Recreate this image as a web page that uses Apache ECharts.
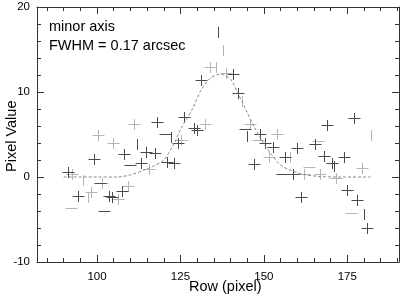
<!DOCTYPE html>
<html>
<head>
<meta charset="utf-8">
<script src="https://cdn.jsdelivr.net/npm/echarts@6/dist/echarts.min.js"></script>
<style>html,body{margin:0;padding:0;background:#fff}#c{width:407px;height:297px}</style>
</head>
<body>
<div id="c"></div>
<script>
// ---- data ----
const xMajorTicks = [100, 125, 150, 175];
const xMinorTicks = [85, 90, 95, 105, 110, 115, 120, 130, 135, 140, 145, 155, 160, 165, 170, 180, 185, 190];

// measurements drawn as full crosses (dark and light grey)
const darkCross = [
  [91.2, 0.6], [94.2, -2.2], [99.2, 2.1], [103.7, -2.2], [104.4, -2.3], [107.6, -1.7],
  [108.2, 2.7], [113.3, 1.6], [114.8, 2.9], [117.3, 2.8], [118.0, 6.5], [121.0, 1.8],
  [123.1, 1.6], [124.3, 4.0], [126.2, 7.1], [129.1, 5.8], [130.1, 5.5], [131.3, 11.4],
  [140.6, 12.1], [142.2, 9.9], [146.9, 1.5], [148.9, 5.1], [150.3, 4.0], [152.6, 3.5],
  [156.4, 2.4], [158.8, 0.3], [160.0, 3.4], [161.0, -2.3], [165.2, 3.9], [168.1, 2.5],
  [169.0, 6.1], [170.3, 1.7], [174.1, 2.3], [174.9, -1.5], [176.9, 7.0], [177.8, -2.7],
  [181.0, -6.0]
];
const lightCross = [
  [92.4, 0.35], [98.1, -1.8], [100.3, 5.0], [101.4, -0.7], [104.9, 4.0], [106.2, -2.6],
  [109.3, -1.0], [111.1, 6.2], [115.5, 1.0], [125.3, 4.4], [132.3, 6.2], [134.0, 12.9],
  [138.7, 12.2], [145.8, 6.2], [151.5, 2.3], [154.0, 5.1], [162.0, 0.3], [166.8, 0.3],
  [171.7, -0.15], [179.3, 1.1]
];
// measurements where only the horizontal bar is visible
const darkHBar = [[100.9, -0.75], [102.1, -4.0], [110.0, 1.4], [120.3, 5.1], [144.2, 5.7], [155.4, 0.3]];
const lightHBar = [[92.2, -3.6], [148.3, 4.4], [163.5, 1.2], [166.3, 4.2], [176.0, -4.2]];
// measurements where only the vertical bar is visible
const darkVBar = [[112.0, 3.9], [122.3, 4.7], [136.2, 17.1], [144.9, 4.8], [171.0, 1.3], [179.9, -4.3]];
const lightVBar = [[95.9, -0.35], [97.3, -2.3], [135.8, 13.0], [137.8, 14.9], [143.3, 9.0], [157.8, 2.3], [182.2, 5.0]];

// fitted profile
const fitX = [90, 100, 106, 110, 114, 117, 120, 123, 125.3, 128.6, 131, 134, 137, 140, 142.3, 145, 147, 150, 152.6, 155, 158, 162, 167, 172, 182];
const fitY = [0, 0, 0, 0.25, 0.8, 1.3, 2.0, 3.9, 5.8, 8.0, 10.1, 11.65, 12.1, 11.5, 9.8, 7.6, 6.0, 3.9, 2.5, 1.4, 0.8, 0.3, 0.05, 0, 0];

const annotation1 = 'minor axis';
const annotation2 = 'FWHM = 0.17 arcsec';
const xName = 'Row (pixel)';
const yName = 'Pixel Value';

// ---- chart ----
const FONT = 'Liberation Sans, Arial, Helvetica, sans-serif';
const DARK = '#4a4a4a', LIGHT = '#b5b5b5', AXIS = '#333';

function barSeries(data, color, showH, showV) {
  return {
    type: 'custom', xAxisIndex: 0, yAxisIndex: 0, data: data, silent: true,
    renderItem: function (params, api) {
      const p = api.coord([api.value(0), api.value(1)]);
      const cx = Math.round(p[0]) + 0.5, cy = Math.round(p[1]) + 0.5;
      const ch = [];
      if (showH) ch.push({type: 'line', shape: {x1: cx - 6, y1: cy, x2: cx + 6, y2: cy}, style: {stroke: color, lineWidth: 1}});
      if (showV) ch.push({type: 'line', shape: {x1: cx, y1: cy - 5.5, x2: cx, y2: cy + 5.5}, style: {stroke: color, lineWidth: 1}});
      return {type: 'group', children: ch};
    }
  };
}

function xAx(pos, ticks, len, showLine, showLabel) {
  return {
    type: 'value', min: 82, max: 190.5, position: pos,
    axisLine: {show: showLine, onZero: false, lineStyle: {color: AXIS, width: 1}},
    axisTick: {show: true, inside: true, length: len, customValues: ticks, lineStyle: {color: AXIS}},
    axisLabel: showLabel ? {show: true, customValues: ticks, fontSize: 11.5, color: '#000', fontFamily: FONT, margin: 9} : {show: false},
    splitLine: {show: false}
  };
}
function yAx(pos, showLabel) {
  return {
    type: 'value', min: -10, max: 20, interval: 10, position: pos,
    axisLine: {show: true, onZero: false, lineStyle: {color: AXIS, width: 1}},
    axisTick: {show: true, inside: true, length: 7, lineStyle: {color: AXIS}},
    minorTick: {show: true, splitNumber: 5, length: 4, lineStyle: {color: AXIS}},
    axisLabel: showLabel ? {show: true, fontSize: 11.5, color: '#000', fontFamily: FONT, margin: 7} : {show: false},
    splitLine: {show: false}, minorSplitLine: {show: false}
  };
}

const chart = echarts.init(document.getElementById('c'), null, {renderer: 'canvas'});
chart.setOption({
  animation: false,
  backgroundColor: '#fff',
  grid: {left: 37, right: 8, top: 7, bottom: 35},
  xAxis: [
    xAx('bottom', xMajorTicks, 7, true, true),
    xAx('bottom', xMinorTicks, 4, false, false),
    xAx('top', xMajorTicks, 7, true, false),
    xAx('top', xMinorTicks, 4, false, false)
  ],
  yAxis: [yAx('left', true), yAx('right', false)],
  graphic: [
    {type: 'text', left: 49, top: 19, style: {text: annotation1, font: '14.5px ' + FONT, fill: '#000'}},
    {type: 'text', left: 49, top: 38, style: {text: annotation2, font: '14.5px ' + FONT, fill: '#000'}},
    {type: 'text', left: 189, top: 279, style: {text: xName, font: '14.5px ' + FONT, fill: '#000'}},
    {type: 'text', x: 4, y: 172, rotation: Math.PI / 2, style: {text: yName, font: '14.5px ' + FONT, fill: '#000', textVerticalAlign: 'top'}}
  ],
  series: [
    {
      type: 'line', xAxisIndex: 0, yAxisIndex: 0, showSymbol: false, smooth: 0.3, silent: true,
      data: fitX.map((x, i) => [x, fitY[i]]),
      lineStyle: {color: '#8a8a8a', width: 1, type: [3, 2]}
    },
    barSeries(lightCross, LIGHT, true, true),
    barSeries(lightHBar, LIGHT, true, false),
    barSeries(lightVBar, LIGHT, false, true),
    barSeries(darkCross, DARK, true, true),
    barSeries(darkHBar, DARK, true, false),
    barSeries(darkVBar, DARK, false, true)
  ]
});
</script>
</body>
</html>
